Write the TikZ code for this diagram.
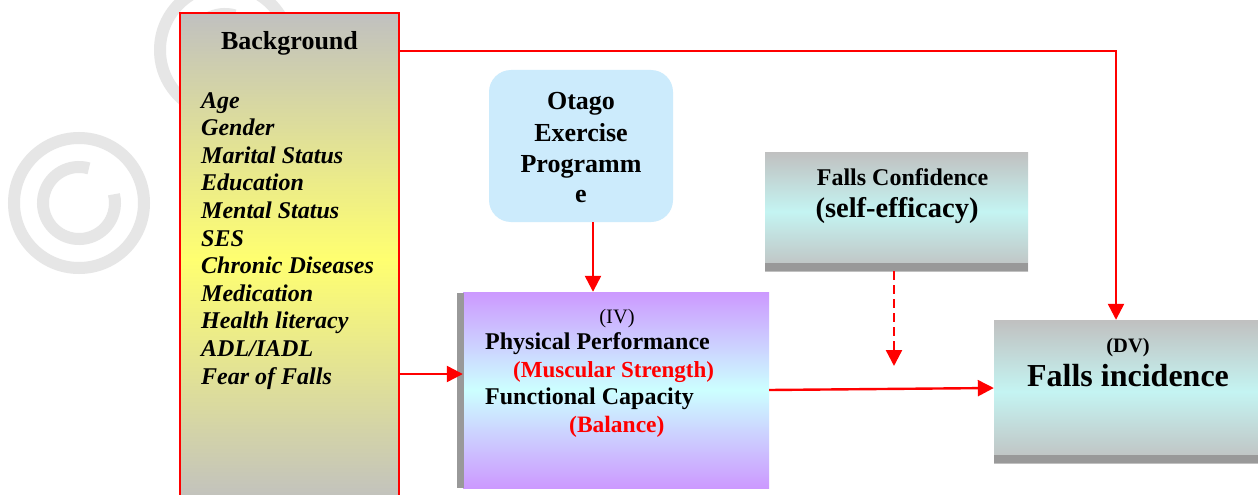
\documentclass[tikz,border=0pt]{standalone}
\usepackage{fontspec}
\setmainfont{Liberation Serif}
\usetikzlibrary{arrows.meta,calc}
\definecolor{wmgray}{HTML}{E6E6E6}
\definecolor{boxgray}{HTML}{C0C0C0}
\definecolor{bargray}{HTML}{999999}
\definecolor{bgyellow}{HTML}{FFFF70}
\definecolor{ivpurple}{HTML}{CC99FF}
\definecolor{ivcyan}{HTML}{CCFFFF}
\definecolor{tealcyan}{HTML}{C4F4F2}
\definecolor{otagoblue}{HTML}{CCEBFC}
\tikzset{
  arr/.style={draw=red, line width=2.4pt, -{Triangle[length=16pt,width=16pt]}},
  wm/.style={draw=wmgray, line width=12pt},
  bgboxstyle/.style={draw=red, line width=2pt, top color=boxgray, bottom color=boxgray, middle color=bgyellow, inner sep=0pt},
  ivstyle/.style={top color=ivpurple, bottom color=ivpurple, middle color=ivcyan, inner sep=0pt},
  tealstyle/.style={top color=boxgray, bottom color=boxgray, middle color=tealcyan, inner sep=0pt},
  otagostyle/.style={fill=otagoblue, rounded corners=22pt, inner sep=0pt},
  lbl/.style={inner sep=0pt, text=black},
}
\newcommand{\fs}[1]{\fontsize{#1}{#1}\selectfont}
\begin{document}
\begin{tikzpicture}[x=1pt,y=1pt]
\clip (0,0) rectangle (1258,-495);
\fill[white] (0,0) rectangle (1258,-495);
% watermark
\draw[wm] (79,-203) circle[radius=65];
\draw[wm] (79,-203) ++(74:36) arc[start angle=74,end angle=374,radius=36];
\draw[wm] (225,-50) circle[radius=65];
\draw[wm] (225,-50) ++(74:36) arc[start angle=74,end angle=374,radius=36];
% boxes
\node[bgboxstyle, minimum width=219, minimum height=492] (bgbox) at (289.5,-259) {};
\node[otagostyle, minimum width=184, minimum height=152] (otago) at (581,-146) {};
\node[ivstyle, minimum width=306, minimum height=196] (iv) at (616,-390) {};
\fill[bargray] (457,-293) rectangle (464,-488);
\node[tealstyle, minimum width=263, minimum height=119] (fc) at (896.5,-211.5) {};
\fill[bargray] (765,-263) rectangle (1028,-271);
\node[tealstyle, minimum width=268, minimum height=143] (dv) at (1128,-391.5) {};
\fill[bargray] (994,-455) rectangle (1262,-463);
% background texts
\node[lbl, anchor=base, font=\bfseries\fs{26}] (bgtitle) at (289.5,-49) {Background};
\foreach \t [count=\i] in {Age, Gender, Marital Status, Education, Mental Status, SES, Chronic Diseases, Medication, Health literacy, ADL/IADL, Fear of Falls}
  \node[lbl, anchor=base west, font=\bfseries\itshape\fs{24}] (bg\i) at (201,{-108-27.6*(\i-1)}) {\t};
% otago texts
\node[lbl, anchor=base, font=\bfseries\fs{26}] (ot1) at (581,-110) {Otago};
\node[lbl, anchor=base, font=\bfseries\fs{26}] (ot2) at (581,-141) {Exercise};
\node[lbl, anchor=base, font=\bfseries\fs{26}] (ot3) at (581,-172) {Programm};
\node[lbl, anchor=base, font=\bfseries\fs{26}] (ot4) at (581,-202) {e};
% IV texts
\node[lbl, anchor=base, font=\fs{20.5}] (iv0) at (617,-323) {(IV)};
\node[lbl, anchor=base west, font=\bfseries\fs{24}] (iv1) at (485,-349) {Physical Performance};
\node[lbl, anchor=base west, font=\bfseries\fs{23}, text=red] (iv2) at (513,-377) {(Muscular Strength)};
\node[lbl, anchor=base west, font=\bfseries\fs{24}] (iv3) at (485,-404) {Functional Capacity};
\node[lbl, anchor=base west, font=\bfseries\fs{23.5}, text=red] (iv4) at (569,-432) {(Balance)};
% falls confidence texts
\node[lbl, anchor=base, font=\bfseries\fs{24}] (fc1) at (902.5,-185) {Falls Confidence};
\node[lbl, anchor=base, font=\bfseries\fs{28.5}] (fc2) at (897,-217) {(self-efficacy)};
% DV texts
\node[lbl, anchor=base, font=\bfseries\fs{20.5}] (dv1) at (1128,-352) {(DV)};
\node[lbl, anchor=base, font=\bfseries\fs{32}] (dv2) at (1128,-386) {Falls incidence};
% connectors
\coordinate (topturn) at (1116,-51);
\draw[arr] (bgbox.east |- topturn) -- (topturn) -- (topturn |- dv.north);
\draw[arr] (bgbox.east |- 0,-374) -- (iv.west |- 0,-374);
\draw[arr] (otago.south -| 593,0) -- (iv.north -| 593,0);
\coordinate (fcend) at (894,-366);
\draw[arr, dash pattern=on 9pt off 5pt] (fc.south -| fcend) -- (fcend);
\draw[arr] (iv.east) -- (dv.west |- 0,-388);
\end{tikzpicture}
\end{document}
